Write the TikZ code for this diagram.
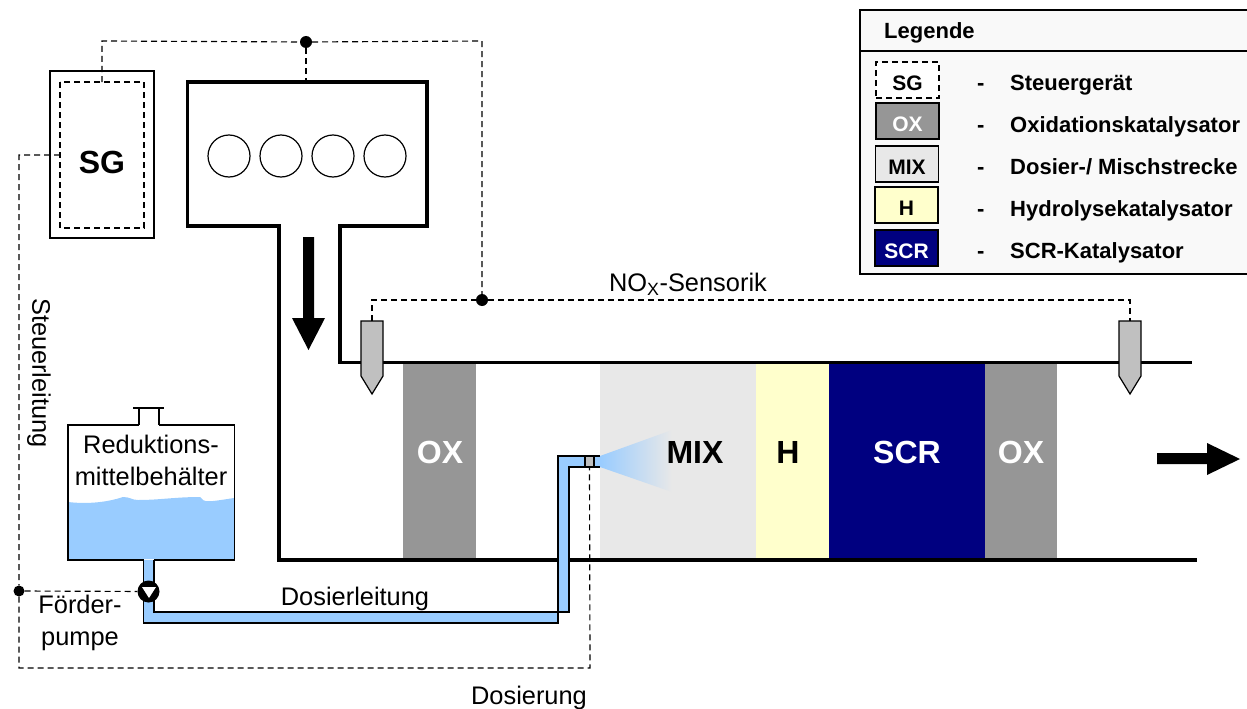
\documentclass[tikz,border=0pt]{standalone}
\usepackage{fontspec}
\setmainfont{Liberation Sans}
\usetikzlibrary{shadings}
\definecolor{oxgray}{HTML}{969696}
\definecolor{mixgray}{HTML}{E8E8E8}
\definecolor{hyellow}{HTML}{FFFFCC}
\definecolor{scrblue}{HTML}{000080}
\definecolor{fluid}{HTML}{99CCFF}
\definecolor{probe}{HTML}{C0C0C0}
\definecolor{legback}{HTML}{F9F9F9}
\tikzset{
  wall/.style={line width=3.5pt, line cap=rect, line join=miter},
  signal/.style={line width=1.15pt, dash pattern=on 6pt off 4pt},
  joint/.style={circle, fill=black, inner sep=0pt, minimum size=12pt},
  block/.style={font=\fontsize{32}{32}\bfseries\selectfont, text=white},
  label/.style={font=\fontsize{25.4}{32}\selectfont, align=center},
  legbox/.style={draw, line width=1.4pt, minimum width=63pt, minimum height=36pt, inner sep=0pt, text height=20pt, text depth=0pt, font=\fontsize{21}{21}\bfseries\selectfont},
  legtext/.style={anchor=base west, inner sep=0pt, font=\fontsize{22}{22}\bfseries\selectfont},
}
\begin{document}
\begin{tikzpicture}[x=1pt, y=-1pt]
\useasboundingbox (0,0) rectangle (1247,709);

% Catalyst blocks
\fill[oxgray] (403,364) rectangle (476,560);
\fill[mixgray] (600,364) rectangle (756,560);
\fill[hyellow] (756,364) rectangle (829,560);
\fill[scrblue] (829,364) rectangle (985,560);
\fill[oxgray] (985,364) rectangle (1057,560);
\node[block] (ox1) at (440,452) {OX};
\node[block, text=black] (h) at (788,452) {H};
\node[block] (scr) at (907,452) {SCR};
\node[block] (ox2) at (1021,452) {OX};

% Engine and exhaust pipe
\draw[wall] (279,560) -- (279,226) -- (187.5,226) -- (187.5,82) -- (427,82) -- (427,226) -- (340,226) -- (340,362.5) -- (1190,362.5);
\draw[wall] (279,560) -- (1195.5,560);
\foreach \i/\cx in {1/229, 2/281, 3/333, 4/385}
  \node[draw, circle, line width=1.2pt, minimum size=42pt, inner sep=0pt] (cyl\i) at (\cx,156) {};

% Flow arrows
\fill (303,237) -- (314,237) -- (314,318) -- (325,318) -- (308.5,350) -- (292,318) -- (303,318) -- cycle;
\fill (1157,453) -- (1207,453) -- (1207,443) -- (1240,459) -- (1207,475) -- (1207,464) -- (1157,464) -- cycle;

% Control unit
\draw[line width=1.4pt] (50,71) rectangle (154,238);
\draw[signal, line width=1.5pt] (60,82) rectangle (144,228);
\node[font=\fontsize{32}{32}\bfseries\selectfont] (sg) at (102,162) {SG};
\coordinate (sgtop) at (102,82);
\coordinate (sgleft) at (60,155);

% Tank
\fill[fluid] (68,502) .. controls (85,504) and (105,503) .. (123,497) .. controls (130,497) and (132,500) .. (138,500)
  .. controls (160,500) and (175,497) .. (200,497) .. controls (204,503) and (208,502) .. (234,498) -- (234,559) -- (68,559) -- cycle;
\draw[line width=1.4pt] (139,425) -- (68,425) -- (68,560) -- (143.5,560);
\draw[line width=1.4pt] (159,425) -- (234.5,425) -- (234.5,560) -- (154,560);
\draw[line width=1.4pt] (139,425) -- (139,408);
\draw[line width=1.4pt] (159,425) -- (159,408);
\draw[line width=2pt] (133,408) -- (164,408);
\node[label] (tank) at (151,460) {Reduktions-\\mittelbehälter};

% Dosing pipe
\fill[fluid] (143.5,560) -- (154,560) -- (154,612) -- (569,612) -- (569,467) -- (600,467) -- (600,456) -- (558,456) -- (558,623) -- (143.5,623) -- cycle;
\draw[line width=1.2pt] (143.5,560) -- (143.5,623) -- (558,623) -- (558,456) -- (600,456);
\draw[line width=1.2pt] (154,560) -- (154,612) -- (569,612) -- (569,467) -- (600,467);
\shade[left color=fluid, right color=mixgray] (600,456) -- (672,430) -- (672,492) -- (600,467) -- cycle;
\node[block, text=black] (mix) at (695,452) {MIX};
\node[draw, fill=probe, line width=1.2pt, minimum width=9pt, minimum height=11pt, inner sep=0pt] (nozzle) at (589.5,461.5) {};

% Pump
\node[circle, fill=black, minimum size=22pt, inner sep=0pt] (pump) at (148.5,591.5) {};
\fill[white] (142,587) -- (156,587) -- (149,598) -- cycle;

% Sensors
\fill[probe, draw=black, line width=1.2pt] (361,321) -- (383,321) -- (383,376) -- (372,394) -- (361,376) -- cycle;
\fill[probe, draw=black, line width=1.2pt] (1119,321) -- (1141,321) -- (1141,376) -- (1130,394) -- (1119,376) -- cycle;
\coordinate (sensor1) at (372,321);
\coordinate (sensor2) at (1130,321);

% Signal lines
\node[joint] (topdot) at (306,42) {};
\node[joint] (busdot) at (482,300) {};
\node[joint, minimum size=11pt] (pumpdot) at (19,591) {};
\coordinate (enginetop) at (306,82);
\draw[signal] (sgtop) -- (102,41) -- (topdot) -- (482,41) -- (busdot);
\draw[signal] (topdot) -- (enginetop);
\draw[signal] (sensor1) -- (372,300) -- (busdot) -- (1130,300) -- (sensor2);
\draw[signal] (sgleft) -- (19,155) -- (pumpdot) -- (19,668) -- (590,668) -- (nozzle);
\draw[signal] (pumpdot) -- (pump);

% Labels
\node[label] (nox) at (688,284) {NO\textsubscript{X}-Sensorik};
\node[label, rotate=-90] (steuer) at (39,373) {Steuerleitung};
\node[label] (dosier) at (355,599) {Dosierleitung};
\node[label] (foerder) at (80,623) {Förder-\\pumpe};
\node[label] (dosierung) at (529,697.5) {Dosierung};

% Legend
\draw[line width=1.4pt, fill=legback] (860,10) rectangle (1250,274);
\draw[line width=1.4pt] (860,51) -- (1250,51);
\node[legtext] (legtitle) at (884,38) {Legende};
\node[legbox, signal, line width=1.4pt, fill=white] (legsg) at (907.5,80) {SG};
\node[legbox, fill=oxgray, text=white] (legox) at (907.5,121) {OX};
\node[legbox, fill=mixgray] (legmix) at (907,164) {MIX};
\node[legbox, fill=hyellow] (legh) at (906.5,205) {H};
\node[legbox, fill=scrblue, text=white] (legscr) at (906.5,248) {SCR};
\foreach \n/\y/\t in {a/90/{Steuergerät}, b/132/{Oxidationskatalysator}, c/174/{Dosier-/ Mischstrecke}, d/216/{Hydrolysekatalysator}, e/258/{SCR-Katalysator}}{
  \node[legtext] (dash\n) at (977,\y) {-};
  \node[legtext] (text\n) at (1010,\y) {\t};
}
\end{tikzpicture}
\end{document}
